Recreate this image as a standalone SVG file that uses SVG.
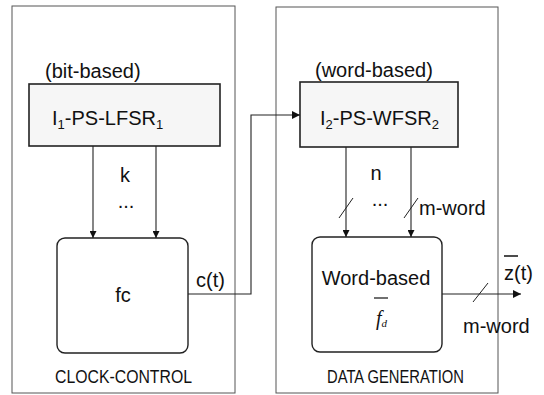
<svg xmlns="http://www.w3.org/2000/svg" width="544" height="395" viewBox="0 0 544 395">
<defs>
<marker id="arr" viewBox="0 0 10 10" refX="10" refY="5" markerWidth="7" markerHeight="7" markerUnits="userSpaceOnUse" orient="auto">
<path d="M0,0 L10,5 L0,10 z" fill="#111"/>
</marker>
<marker id="arrBig" viewBox="0 0 10 10" refX="10" refY="5" markerWidth="9" markerHeight="8" markerUnits="userSpaceOnUse" orient="auto">
<path d="M0,0 L10,5 L0,10 z" fill="#111"/>
</marker>
<style>
text{font-family:"Liberation Sans",Arial,sans-serif;fill:#111;font-size:20px}
.outer{fill:none;stroke:#555;stroke-width:1}
.reg{fill:#f6f6f6;stroke:#222;stroke-width:1.6}
.fn{fill:#fff;stroke:#222;stroke-width:1.4}
.wire{fill:none;stroke:#222;stroke-width:1.1}
.slash{fill:none;stroke:#222;stroke-width:1}
.small{font-size:18px}
</style>
</defs>
<rect width="544" height="395" fill="#fff"/>

<g id="clock-control">
<rect class="outer" x="12" y="6" width="223" height="387"/>
<text class="small" x="55" y="383" textLength="137" lengthAdjust="spacingAndGlyphs">CLOCK-CONTROL</text>
</g>

<g id="data-generation">
<rect class="outer" x="276" y="7" width="222" height="386"/>
<text class="small" x="327" y="383" textLength="137" lengthAdjust="spacingAndGlyphs">DATA GENERATION</text>
</g>

<g id="lfsr1">
<text x="45" y="78" font-size="21">(bit-based)</text>
<rect class="reg" x="29" y="84" width="191" height="62"/>
<text x="52" y="125" font-size="21">I<tspan font-size="13" dy="4">1</tspan><tspan dy="-4">-PS-LFSR</tspan><tspan font-size="13" dy="4">1</tspan></text>
</g>

<g id="wfsr2">
<text x="315" y="77">(word-based)</text>
<rect class="reg" x="300" y="82" width="158" height="65"/>
<text x="320" y="125" font-size="21">I<tspan font-size="13" dy="4">2</tspan><tspan dy="-4">-PS-WFSR</tspan><tspan font-size="13" dy="4">2</tspan></text>
</g>

<g id="fc">
<rect class="fn" x="57" y="238" width="131" height="115" rx="8"/>
<text x="123" y="302" text-anchor="middle">fc</text>
</g>

<g id="fd">
<rect class="fn" x="312" y="237" width="130" height="115" rx="8"/>
<text x="376" y="285" text-anchor="middle">Word-based</text>
<line x1="374" y1="298" x2="388" y2="298" stroke="#111" stroke-width="1.2"/>
<text x="376" y="325" style="font-family:'Liberation Serif','Times New Roman',serif;font-style:italic" font-size="20">f<tspan font-size="11" dy="2">d</tspan></text>
</g>

<g id="connectors">
<path class="wire" d="M93,146 V238" marker-end="url(#arr)"/>
<path class="wire" d="M156,146 V238" marker-end="url(#arr)"/>
<path class="wire" d="M346,147 V237" marker-end="url(#arr)"/>
<path class="wire" d="M411,147 V237" marker-end="url(#arr)"/>
<path class="wire" d="M188,294 H251 V115 H300" stroke-width="1.5" marker-end="url(#arrBig)"/>
<path class="wire" d="M442,294 H521" stroke-width="1.5" marker-end="url(#arrBig)"/>
<path class="slash" d="M339,218 L353,198 M404,218 L418,198 M473,302 L488,283"/>
</g>

<g id="labels">
<text x="125" y="182" text-anchor="middle">k</text>
<text x="126" y="208" text-anchor="middle">...</text>
<text x="196" y="287">c(t)</text>
<text x="376" y="180" text-anchor="middle">n</text>
<text x="380" y="206" text-anchor="middle">...</text>
<text x="419" y="215">m-word</text>
<text x="504" y="280">z(t)</text>
<line x1="504" y1="256" x2="518" y2="256" stroke="#111" stroke-width="1.5"/>
<text x="463" y="333">m-word</text>
</g>
</svg>
